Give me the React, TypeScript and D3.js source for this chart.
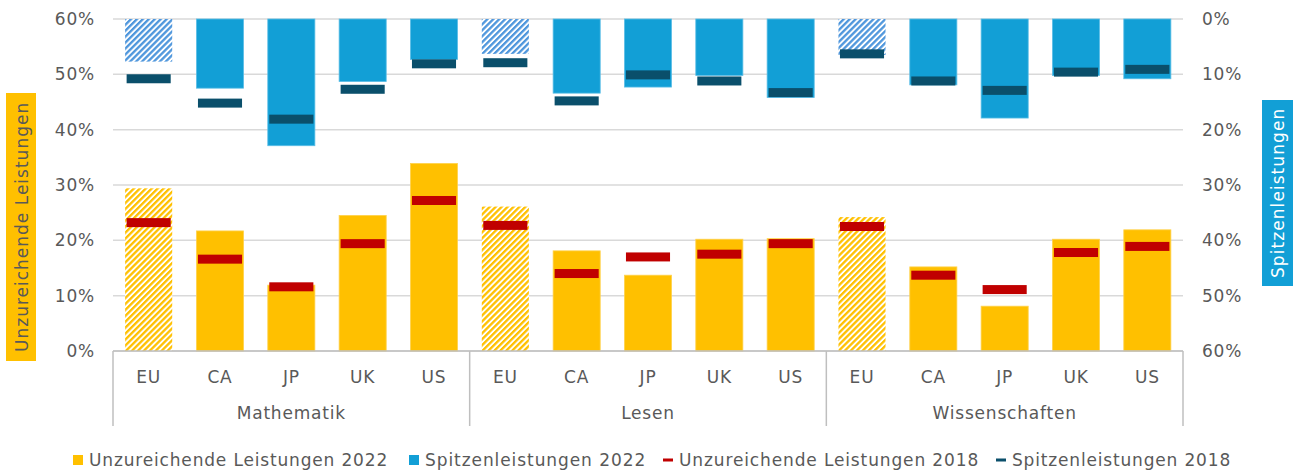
import React from 'react';
import * as d3 from 'd3';

// subjects and countries
const subjects = ['Mathematik', 'Lesen', 'Wissenschaften'];
const countries = ['EU', 'CA', 'JP', 'UK', 'US'];

// share of low achievers (%), per subject, in country order
const low2022 = [
  [29.4, 21.7, 11.9, 24.5, 33.9],
  [26.1, 18.1, 13.7, 20.2, 20.3],
  [24.2, 15.2, 8.1, 20.2, 21.9],
];
const low2018 = [
  [23.2, 16.6, 11.6, 19.4, 27.2],
  [22.7, 14.0, 17.0, 17.5, 19.4],
  [22.5, 13.7, 11.1, 17.8, 18.9],
];
// share of top performers (%), right axis (reversed)
const top2022 = [
  [7.7, 12.5, 22.9, 11.3, 7.3],
  [6.3, 13.4, 12.3, 10.2, 14.2],
  [6.5, 11.9, 17.9, 10.2, 10.8],
];
const top2018 = [
  [10.8, 15.2, 18.1, 12.7, 8.1],
  [7.9, 14.8, 10.1, 11.2, 13.3],
  [6.3, 11.2, 12.9, 9.6, 9.1],
];

const ticks = [0, 10, 20, 30, 40, 50, 60];
const legendItems = [
  { label: 'Unzureichende Leistungen 2022', color: '#FFC000', kind: 'box' },
  { label: 'Spitzenleistungen 2022', color: '#129FD6', kind: 'box' },
  { label: 'Unzureichende Leistungen 2018', color: '#C00000', kind: 'dash' },
  { label: 'Spitzenleistungen 2018', color: '#0A4F6B', kind: 'dash' },
];

const W = 1301;
const H = 471;
const left = 113, right = 1183, top = 19, bottom = 351;
const font = '"DejaVu Sans", Verdana, sans-serif';
const txt = '#595959';

export default function App() {
  const rows = subjects.flatMap((s, si) =>
    countries.map((c, ci) => ({
      key: s + '|' + c,
      subject: s,
      country: c,
      eu: c === 'EU',
      low: low2022[si][ci],
      low18: low2018[si][ci],
      top: top2022[si][ci],
      top18: top2018[si][ci],
    }))
  );

  const x = d3.scaleBand().domain(rows.map(r => r.key)).range([left, right]).paddingInner(0.34).paddingOuter(0.17);
  const yL = d3.scaleLinear().domain([0, 60]).range([bottom, top]);
  const yR = d3.scaleLinear().domain([0, 60]).range([top, bottom]);
  const bw = x.bandwidth();
  const mw = bw - 3;
  const mh = 9;
  const groupW = (right - left) / subjects.length;

  const legendX = [73, 409, 663, 996];
  const legendLen = [299, 221, 300, 219];

  return (
    <svg width={W} height={H} style={{ position: 'absolute', left: 0, top: 0, fontFamily: font, letterSpacing: 0.8 }}>
      <defs>
        <pattern id="hY" width="4.2" height="10" patternUnits="userSpaceOnUse" patternTransform="rotate(45)">
          <rect width="4.2" height="10" fill="#fff" />
          <rect width="2.3" height="10" fill="#FFC000" />
        </pattern>
        <pattern id="hB" width="4.2" height="10" patternUnits="userSpaceOnUse" patternTransform="rotate(45)">
          <rect width="4.2" height="10" fill="#fff" />
          <rect width="2.3" height="10" fill="#4E96DC" />
        </pattern>
      </defs>
      <rect width={W} height={H} fill="#fff" />

      {/* gridlines */}
      {ticks.map(t => (
        <line key={t} x1={left} x2={right} y1={yL(t)} y2={yL(t)} stroke="#D9D9D9" strokeWidth={1.5} />
      ))}

      {/* low achievers 2022 */}
      {rows.map(r => (
        <rect key={'l' + r.key} x={x(r.key)} y={yL(r.low)} width={bw} height={bottom - yL(r.low)}
          fill={r.eu ? 'url(#hY)' : '#FFC000'} stroke={r.eu ? 'none' : '#FFD24D'} strokeWidth={0.8} />
      ))}
      {/* top performers 2022 */}
      {rows.map(r => (
        <rect key={'t' + r.key} x={x(r.key)} y={top} width={bw} height={yR(r.top) - top}
          fill={r.eu ? 'url(#hB)' : '#129FD6'} stroke={r.eu ? 'none' : '#5BBEE6'} strokeWidth={0.8} />
      ))}
      {/* 2018 markers */}
      {rows.map(r => (
        <g key={'m' + r.key}>
          <rect x={x(r.key)! + (bw - mw) / 2} y={yL(r.low18) - mh / 2} width={mw} height={mh} fill="#C00000" />
          <rect x={x(r.key)! + (bw - mw) / 2} y={yR(r.top18) - mh / 2} width={mw} height={mh} fill="#0A4F6B" />
        </g>
      ))}

      {/* bottom axis */}
      <line x1={left} x2={right} y1={bottom} y2={bottom} stroke="#BFBFBF" strokeWidth={1.5} />
      {d3.range(subjects.length + 1).map(i => (
        <line key={'s' + i} x1={left + i * groupW} x2={left + i * groupW} y1={bottom} y2={426} stroke="#BFBFBF" strokeWidth={1.5} />
      ))}
      {rows.map(r => (
        <text key={'c' + r.key} x={x(r.key)! + bw / 2} y={377} textAnchor="middle" dominantBaseline="central" fontSize={17} fill={txt}>
          {r.country}
        </text>
      ))}
      {subjects.map((s, i) => (
        <text key={s} x={left + (i + 0.5) * groupW} y={413} textAnchor="middle" dominantBaseline="central" fontSize={17} fill={txt}>
          {s}
        </text>
      ))}

      {/* left axis */}
      {ticks.map(t => (
        <text key={'yl' + t} x={95} y={yL(t)} textAnchor="end" dominantBaseline="central" fontSize={17} fill={txt}>
          {t + '%'}
        </text>
      ))}
      {/* right axis */}
      {ticks.map(t => (
        <text key={'yr' + t} x={1202} y={yR(t)} textAnchor="start" dominantBaseline="central" fontSize={17} fill={txt}>
          {t + '%'}
        </text>
      ))}

      {/* axis titles */}
      <rect x={6} y={93} width={30} height={268} fill="#FFC000" />
      <text transform={`translate(22,${(93 + 361) / 2}) rotate(-90)`} textAnchor="middle" dominantBaseline="central"
        fontSize={17} fill={txt} textLength={250} lengthAdjust="spacing">
        Unzureichende Leistungen
      </text>
      <rect x={1262} y={100} width={31} height={186} fill="#129FD6" />
      <text transform={`translate(1278,${(100 + 286) / 2}) rotate(-90)`} textAnchor="middle" dominantBaseline="central"
        fontSize={17} fill="#fff" textLength={170} lengthAdjust="spacing">
        Spitzenleistungen
      </text>

      {/* legend */}
      {legendItems.map((d, i) => (
        <g key={d.label} transform={`translate(${legendX[i]},460)`}>
          {d.kind === 'box'
            ? <rect x={0} y={-5} width={10} height={10} fill={d.color} />
            : <rect x={0} y={-1.5} width={10} height={3} fill={d.color} />}
          <text x={16} y={0} dominantBaseline="central" fontSize={17} fill={txt}
            textLength={legendLen[i]} lengthAdjust="spacing">{d.label}</text>
        </g>
      ))}
    </svg>
  );
}
